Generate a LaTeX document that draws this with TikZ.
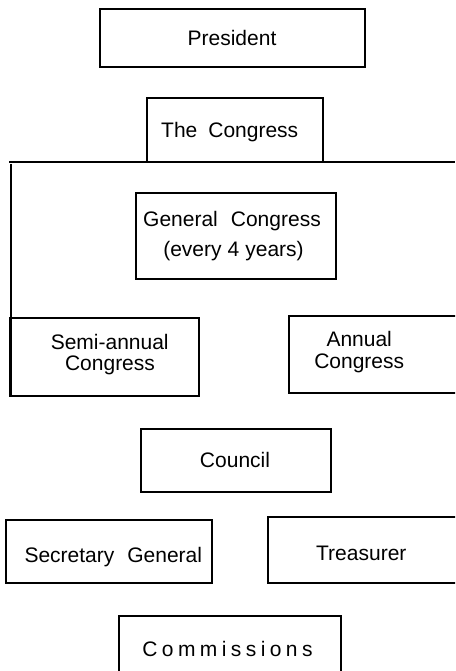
\documentclass[tikz,border=0pt]{standalone}
\usepackage{fontspec}
\setmainfont{Liberation Sans}
\begin{document}
\begin{tikzpicture}[x=1pt,y=-1pt,
  box/.style={draw=black,line width=2pt,rectangle,inner sep=0pt},
  lbl/.style={anchor=base,inner sep=0pt,font=\fontsize{21}{21}\selectfont},
  rule/.style={draw=black,line width=2pt}]
\useasboundingbox (0,0) rectangle (455,671);
\clip (0,0) rectangle (455,671);
% boxes
\node[box,minimum width=265pt,minimum height=58pt] (pres) at (232.5,38) {};
\node[box,minimum width=176pt,minimum height=64pt] (cong) at (235,130) {};
\node[box,minimum width=200pt,minimum height=86pt] (gen) at (236,236) {};
\node[box,minimum width=189pt,minimum height=78pt] (semi) at (104.5,357) {};
\node[box,minimum width=181pt,minimum height=77pt] (ann) at (379.5,354.5) {};
\node[box,minimum width=190pt,minimum height=63pt] (coun) at (236,460.5) {};
\node[box,minimum width=206pt,minimum height=63pt] (sec) at (109,551.5) {};
\node[box,minimum width=202pt,minimum height=66pt] (tre) at (369,550) {};
\node[box,minimum width=222pt,minimum height=74pt] (com) at (230,653) {};
% labels
\node[lbl] (presT) at (232,45.7) {President};
\node[lbl] (congT) at (229.7,138) {The\hspace{11pt}Congress};
\node[lbl] (genT1) at (232,226) {General\hspace{13pt}Congress};
\node[lbl] (genT2) at (233.5,256) {(every\hspace{6pt}4\hspace{6pt}years)};
\node[lbl] (semiT1) at (109.7,349) {Semi-annual};
\node[lbl] (semiT2) at (110,370) {Congress};
\node[lbl] (annT1) at (359.2,346) {Annual};
\node[lbl] (annT2) at (359.2,368) {Congress};
\node[lbl] (counT) at (235,467.3) {Council};
\node[lbl] (secT) at (113.3,562) {Secretary\hspace{13pt}General};
\node[lbl] (treT) at (361.3,560.7) {Treasurer};
\node[lbl] (comT) at (227.5,656) {\addfontfeature{LetterSpace=21}Commissions};
% lines
\coordinate (hl) at (9,162);
\coordinate (hr) at (455,162);
\coordinate (vt) at (11,164);
\coordinate (vb) at (11,397);
\draw[rule] (hl) -- (hr);
\draw[rule] (vt) -- (vb);
\end{tikzpicture}
\end{document}
